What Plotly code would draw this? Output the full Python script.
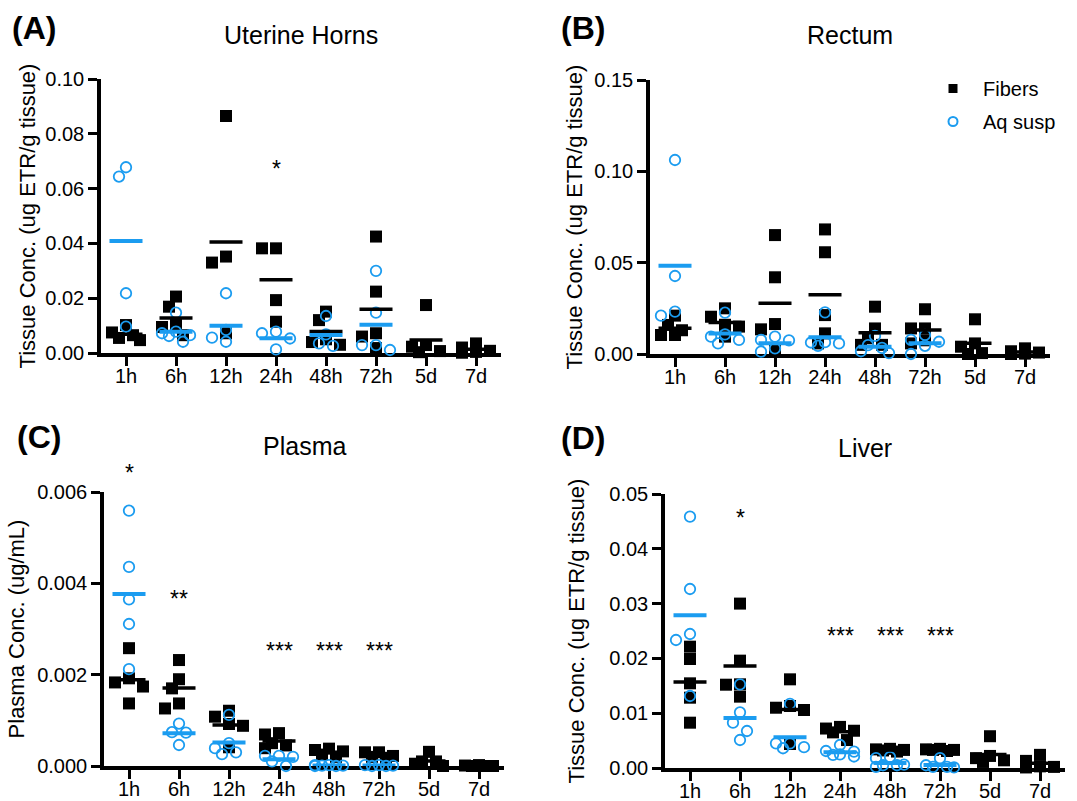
import numpy as np
import plotly.graph_objects as go

# ---------------- data ----------------
categories = ["1h", "6h", "12h", "24h", "48h", "72h", "5d", "7d"]

uterine_fibers = [
    [0.0102, 0.0065, 0.0047, 0.0055, 0.0075],
    [0.0169, 0.0206, 0.0105, 0.0065, 0.0095],
    [0.0865, 0.0330, 0.0352, 0.0072],
    [0.0382, 0.0382, 0.0193, 0.0114],
    [0.0151, 0.0120, 0.0050, 0.0040, 0.0030],
    [0.0425, 0.0224, 0.0072, 0.0060, 0.0018],
    [0.0175, 0.0023, 0.0029, 0.0007, 0.0003],
    [0.0035, 0.0008, 0.0020, 0.0004, 0.0001],
]
uterine_aq = [
    [0.0644, 0.0678, 0.0218, 0.0096],
    [0.0147, 0.0078, 0.0065, 0.0041, 0.0072, 0.0062],
    [0.0218, 0.0041, 0.0056, 0.0084],
    [0.0072, 0.0078, 0.0053, 0.0013],
    [0.0135, 0.0035, 0.0026, 0.0068],
    [0.0300, 0.0147, 0.0029, 0.0029, 0.0011],
    [],
    [],
]
uterine_sig = ["", "", "", "*", "", "", "", ""]

rectum_fibers = [
    [0.0210, 0.0159, 0.0104, 0.0104, 0.0130],
    [0.0250, 0.0204, 0.0160, 0.0095, 0.0150],
    [0.0651, 0.0420, 0.0164, 0.0135, 0.0022],
    [0.0682, 0.0557, 0.0213, 0.0113, 0.0058],
    [0.0259, 0.0140, 0.0086, 0.0050, 0.0050],
    [0.0245, 0.0140, 0.0140, 0.0058, 0.0075],
    [0.0190, 0.0040, 0.0058, 0.0005, 0.0000],
    [0.0031, 0.0015, 0.0008, 0.0000, 0.0002],
]
rectum_aq = [
    [0.1062, 0.0427, 0.0210, 0.0232],
    [0.0226, 0.0107, 0.0077, 0.0058, 0.0095],
    [0.0095, 0.0077, 0.0031, 0.0013, 0.0075],
    [0.0228, 0.0063, 0.0045, 0.0058, 0.0065],
    [0.0099, 0.0049, 0.0005, 0.0033, 0.0015],
    [0.0104, 0.0077, 0.0067, 0.0000, 0.0045],
    [],
    [],
]
rectum_sig = ["", "", "", "", "", "", "", ""]

plasma_fibers = [
    [0.00258, 0.00192, 0.00183, 0.00174, 0.00137],
    [0.00232, 0.00190, 0.00170, 0.00137, 0.00126],
    [0.00121, 0.00108, 0.00092, 0.00088, 0.00041],
    [0.00072, 0.00069, 0.00050, 0.00045, 0.00039],
    [0.00035, 0.00038, 0.00032, 0.00025, 0.00020],
    [0.00030, 0.00030, 0.00022, 0.00020, 0.00018],
    [0.00031, 0.00005, 0.00010, 0.00000, 0.00010],
    [0.00000, 0.00001, 0.00000, 0.00002, 0.00000],
]
plasma_aq = [
    [0.00559, 0.00436, 0.00365, 0.00311, 0.00212],
    [0.00093, 0.00074, 0.00073, 0.00046],
    [0.00112, 0.00050, 0.00039, 0.00026, 0.00030],
    [0.00022, 0.00022, 0.00010, 0.00000, 0.00020],
    [0.00002, 0.00001, 0.00000, 0.00002, 0.00001, 0.00000],
    [0.00002, 0.00000, 0.00001, 0.00002, 0.00000],
    [],
    [],
]
plasma_sig = ["*", "**", "", "***", "***", "***", "", ""]

liver_fibers = [
    [0.02214, 0.01989, 0.01545, 0.01283, 0.00827],
    [0.03000, 0.01959, 0.01527, 0.01520, 0.01302],
    [0.01618, 0.01131, 0.01100, 0.01058, 0.00438],
    [0.0072, 0.0075, 0.0068, 0.0065, 0.0051],
    [0.0035, 0.0033, 0.0032, 0.0034, 0.0030],
    [0.0035, 0.0033, 0.0033, 0.0034, 0.0031],
    [0.0058, 0.0022, 0.0014, 0.0011, 0.0018],
    [0.0024, 0.0013, 0.0003, 0.0001, 0.0002],
]
liver_aq = [
    [0.04586, 0.03266, 0.02445, 0.02336, 0.01314],
    [0.01527, 0.01016, 0.00827, 0.00675, 0.00511],
    [0.0117, 0.0045, 0.0038, 0.0036, 0.0045],
    [0.0042, 0.0031, 0.0021, 0.0030, 0.0024, 0.0025],
    [0.0020, 0.0018, 0.0005, 0.0002, 0.0005, 0.0006],
    [0.0018, 0.0005, 0.0002, 0.0001, 0.0002],
    [],
    [],
]
liver_sig = ["", "*", "", "***", "***", "***", "", ""]

# ---------------- style / layout config ----------------
W, H = 1077, 801
BLUE = "#1b9cf0"
FONT = "Arial, Liberation Sans, Helvetica, sans-serif"
PLOT_W = 400   # px width of each axis
PLOT_H = 274   # px height of each axis
CAT_PX = PLOT_W / 8.0

panels = [
    dict(letter="(A)", title="Uterine Horns", ytitle="Tissue Conc. (ug ETR/g tissue)",
         fibers=uterine_fibers, aq=uterine_aq, sig=uterine_sig, sig_y=[0, 0, 0, 0.0693, 0, 0, 0, 0],
         ymax=0.10, dtick=0.02, fmt=".2f", x0=101, ytop=79, standoff=5,
         letter_xy=(34, 28), title_y=35),
    dict(letter="(B)", title="Rectum", ytitle="Tissue Conc. (ug ETR/g tissue)",
         fibers=rectum_fibers, aq=rectum_aq, sig=rectum_sig, sig_y=[0] * 8,
         ymax=0.15, dtick=0.05, fmt=".2f", x0=650, ytop=80, standoff=7,
         letter_xy=(583, 28), title_y=35),
    dict(letter="(C)", title="Plasma", ytitle="Plasma Conc. (ug/mL)",
         fibers=plasma_fibers, aq=plasma_aq, sig=plasma_sig,
         sig_y=[0.00655, 0.00378, 0, 0.00265, 0.00265, 0.00265, 0, 0],
         ymax=0.006, dtick=0.002, fmt=".3f", x0=104, ytop=492, standoff=7,
         letter_xy=(39, 437), title_y=446),
    dict(letter="(D)", title="Liver", ytitle="Tissue Conc. (ug ETR/g tissue)",
         fibers=liver_fibers, aq=liver_aq, sig=liver_sig,
         sig_y=[0, 0.0468, 0, 0.0252, 0.0252, 0.0252, 0, 0],
         ymax=0.05, dtick=0.01, fmt=".2f", x0=665, ytop=494, standoff=20,
         letter_xy=(583, 438), title_y=448),
]


def swarm(vals, ppu, step=7.0, diam=11.0):
    """Deterministic beeswarm offsets (in category units)."""
    placed = []
    offs = [0.0] * len(vals)
    order = sorted(range(len(vals)), key=lambda i: -vals[i])
    for i in order:
        yp = vals[i] * ppu
        best, bestcost = 0.0, None
        for k in [0, -1, 1, -2, 2]:
            xp = k * step
            cost = sum(max(0.0, diam - np.hypot(xp - px, yp - py)) for px, py in placed)
            if cost == 0:
                best, bestcost = xp, 0
                break
            if bestcost is None or cost < bestcost - 1e-9:
                best, bestcost = xp, cost
        placed.append((best, yp))
        offs[i] = best / CAT_PX
    return offs


fig = go.Figure()
annotations = []
layout_axes = {}

for n, p in enumerate(panels, start=1):
    xa = "x" if n == 1 else f"x{n}"
    ya = "y" if n == 1 else f"y{n}"
    ppu = PLOT_H / p["ymax"]

    # group points
    for grp, color, symbol, size, lw in [("fibers", "black", "square", 12, 0),
                                          ("aq", BLUE, "circle-open", 10.5, 1.8)]:
        xs, ys = [], []
        for ci, vals in enumerate(p[grp]):
            offs = swarm(vals, ppu)
            xs += [ci + o for o in offs]
            ys += list(vals)
        fig.add_trace(go.Scatter(
            x=xs, y=ys, mode="markers", xaxis=xa, yaxis=ya, showlegend=False,
            cliponaxis=False, hoverinfo="skip",
            marker=dict(symbol=symbol, size=size, color=color,
                        line=dict(width=lw, color=color))))

    # mean lines
    for grp, color, width in [("fibers", "black", 3.5), ("aq", BLUE, 4)]:
        mx, my = [], []
        for ci, vals in enumerate(p[grp]):
            if not vals:
                continue
            m = float(np.mean(vals))
            mx += [ci - 0.33, ci + 0.33, None]
            my += [m, m, None]
        fig.add_trace(go.Scatter(
            x=mx, y=my, mode="lines", xaxis=xa, yaxis=ya, showlegend=False,
            cliponaxis=False, hoverinfo="skip",
            line=dict(color=color, width=width)))

    # significance stars: y in axis-domain fraction (linear axis from 0) so that
    # marks above the top tick are still drawn
    for ci, s in enumerate(p["sig"]):
        if s:
            annotations.append(dict(
                x=ci, y=p["sig_y"][ci] / p["ymax"], xref=xa, yref=f"{ya} domain",
                text=s, showarrow=False,
                font=dict(size=23, family=FONT, color="black"),
                xanchor="center", yanchor="middle", yshift=-6))

    x0 = p["x0"]
    ytop = p["ytop"]
    ybot = ytop + PLOT_H
    common = dict(showline=True, linewidth=3.5, linecolor="black", ticks="outside",
                  ticklen=9, tickwidth=3, tickcolor="black", showgrid=False,
                  zeroline=False, layer="below traces", fixedrange=True,
                  automargin=False,
                  tickfont=dict(size=20, family=FONT, color="black"))
    layout_axes["xaxis" if n == 1 else f"xaxis{n}"] = dict(
        common, domain=[x0 / W, (x0 + PLOT_W) / W], range=[-0.5, 7.5],
        tickvals=list(range(len(categories))), ticktext=categories,
        anchor=ya, ticklabelstandoff=-7)
    nt = int(round(p["ymax"] / p["dtick"]))
    layout_axes["yaxis" if n == 1 else f"yaxis{n}"] = dict(
        common, domain=[1 - ybot / H, 1 - ytop / H], range=[0, p["ymax"]],
        tickvals=[k * p["dtick"] for k in range(nt + 1)], tickformat=p["fmt"],
        anchor=xa,
        title=dict(text=p["ytitle"], font=dict(size=22, family=FONT, color="black"),
                   standoff=p["standoff"]))

    # panel letter & title
    lx, ly = p["letter_xy"]
    annotations.append(dict(x=lx / W, y=1 - ly / H, xref="paper", yref="paper",
                            text="<b>" + p["letter"] + "</b>", showarrow=False,
                            font=dict(size=32, family=FONT, color="black"),
                            xanchor="center", yanchor="middle"))
    annotations.append(dict(x=(x0 + PLOT_W / 2) / W, y=1 - p["title_y"] / H,
                            xref="paper", yref="paper", text=p["title"], showarrow=False,
                            font=dict(size=25, family=FONT, color="black"),
                            xanchor="center", yanchor="middle"))

# legend entries (shown in panel B), one legend box per entry for exact spacing
fig.add_trace(go.Scatter(x=[None], y=[None], mode="markers", name="Fibers",
                         xaxis="x2", yaxis="y2", legend="legend",
                         marker=dict(symbol="square", size=9, color="black")))
fig.add_trace(go.Scatter(x=[None], y=[None], mode="markers", name="Aq susp",
                         xaxis="x2", yaxis="y2", legend="legend2",
                         marker=dict(symbol="circle-open", size=9, color=BLUE,
                                     line=dict(width=2, color=BLUE))))

legend_common = dict(xanchor="left", yanchor="top", bgcolor="rgba(0,0,0,0)",
                     itemwidth=50, borderwidth=0, tracegroupgap=0,
                     font=dict(size=20, family=FONT, color="black"))

fig.update_layout(
    template="none",
    width=W, height=H, margin=dict(l=0, r=0, t=0, b=0, pad=0, autoexpand=False),
    paper_bgcolor="white", plot_bgcolor="white",
    font=dict(family=FONT, color="black"),
    annotations=annotations,
    showlegend=True,
    legend=dict(legend_common, x=923 / W, y=1 - 69 / H),
    legend2=dict(legend_common, x=923 / W, y=1 - 102 / H),
    **layout_axes,
)

fig.write_html("out.html", config={"displayModeBar": False},
               post_script="document.body.style.margin='0px';document.body.style.padding='0px';")
